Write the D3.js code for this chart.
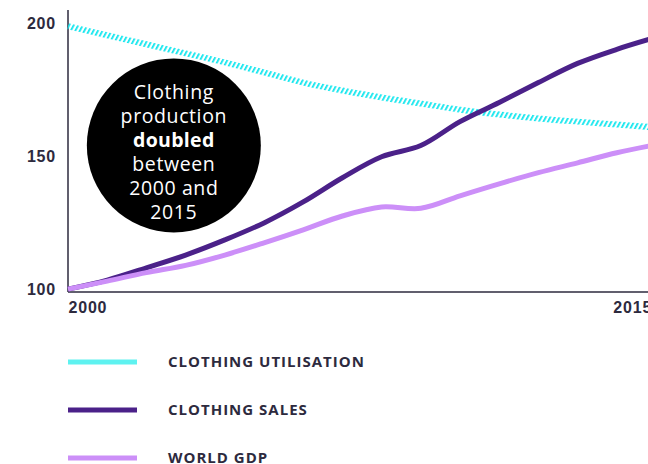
<!DOCTYPE html>
<html>
<head>
<meta charset="utf-8">
<script src="https://cdn.jsdelivr.net/npm/d3@7"></script>
<style>
  body { margin: 0; background: #fff; }
  svg { display: block; font-family: 'Open Sans', 'Lato', sans-serif; }
  .tick text { fill: #2d2a3e; font-weight: 800; }
</style>
</head>
<body>
<svg id="chart" width="648" height="464"></svg>
<script>
// data (index 2000 = 100)
const years = [2000, 2001, 2002, 2003, 2004, 2005, 2006, 2007, 2008, 2009, 2010, 2011, 2012, 2013, 2014, 2015];
const utilisation = [198.9, 195.5, 192.1, 188.7, 185.3, 181.5, 177.7, 174.7, 172.1, 169.8, 167.5, 165.7, 164.2, 163.0, 161.9, 160.8];
const sales = [100, 103.4, 108.0, 112.8, 118.5, 124.9, 132.8, 141.9, 149.8, 154.0, 163.0, 170.2, 177.7, 184.9, 190.2, 194.7];
const gdp = [100, 103.0, 106.2, 108.9, 112.8, 117.4, 122.3, 127.5, 130.9, 130.4, 135.1, 139.6, 143.8, 147.5, 151.3, 154.3];
const yTicks = [100, 150, 200];
const xTicks = [2000, 2015];
const seriesNames = ['CLOTHING UTILISATION', 'CLOTHING SALES', 'WORLD GDP'];
const calloutLines = ['Clothing', 'production', 'doubled', 'between', '2000 and', '2015'];

const svg = d3.select('#chart');

const x = d3.scaleLinear().domain([2000, 2015]).range([68, 656]);
const y = d3.scaleLinear().domain([98.9, 205]).range([292, 10]);

// hatch pattern for utilisation line
const defs = svg.append('defs');
defs.append('pattern')
  .attr('id', 'hatch')
  .attr('patternUnits', 'userSpaceOnUse')
  .attr('width', 4)
  .attr('height', 4)
  .attr('patternTransform', 'rotate(28)')
  .append('rect')
  .attr('width', 1.8)
  .attr('height', 4)
  .attr('fill', '#14e6ee');

const series = [
  {name: seriesNames[0], values: utilisation, stroke: 'url(#hatch)', legend: '#5ef2f0', width: 6},
  {name: seriesNames[1], values: sales, stroke: '#4b2189', legend: '#4b2189', width: 5},
  {name: seriesNames[2], values: gdp, stroke: '#cc8ff8', legend: '#cc8ff8', width: 5}
];

// axes
const yAxis = svg.append('g')
  .attr('transform', 'translate(' + x(2000) + ',0)')
  .call(d3.axisLeft(y).tickValues(yTicks).tickSize(0).tickPadding(12));
yAxis.select('.domain').remove();
yAxis.selectAll('text')
  .style('font-size', '16px')
  .style('letter-spacing', '0.8px');

const xAxis = svg.append('g')
  .attr('transform', 'translate(0,' + y(98.9) + ')')
  .call(d3.axisBottom(x).tickValues(xTicks).tickFormat(d3.format('d')).tickSize(0).tickPadding(10));
xAxis.select('.domain').remove();
xAxis.selectAll('text')
  .style('font-size', '16px')
  .style('letter-spacing', '0.8px')
  .attr('text-anchor', 'start')
  .attr('dx', (d, i) => i === 0 ? 0 : '-2.7em');

svg.append('line')
  .attr('x1', x(2000)).attr('x2', x(2000))
  .attr('y1', y(205)).attr('y2', y(98.9))
  .attr('stroke', '#2d2a3e').attr('stroke-width', 1.5);
svg.append('line')
  .attr('x1', x(2000)).attr('x2', x(2015))
  .attr('y1', y(98.9)).attr('y2', y(98.9))
  .attr('stroke', '#2d2a3e').attr('stroke-width', 1.5);

// lines
const line = d3.line()
  .x((d, i) => x(years[i]))
  .y(d => y(d))
  .curve(d3.curveCatmullRom.alpha(0.5));

svg.selectAll('.series')
  .data(series)
  .enter()
  .append('path')
  .attr('class', 'series')
  .attr('fill', 'none')
  .attr('stroke', d => d.stroke)
  .attr('stroke-width', d => d.width)
  .attr('d', d => line(d.values));

// callout bubble
const cx = x(2002.7), cy = y(154.8);
svg.append('circle')
  .attr('cx', cx).attr('cy', cy + 2).attr('r', 87)
  .attr('fill', '#000');

svg.append('text')
  .attr('text-anchor', 'middle')
  .attr('fill', '#fff')
  .style('font-size', '19.5px')
  .selectAll('tspan')
  .data(calloutLines)
  .enter()
  .append('tspan')
  .attr('x', cx)
  .attr('y', (d, i) => cy - 44 + i * 24)
  .style('font-weight', d => d === 'doubled' ? 700 : 400)
  .style('letter-spacing', d => d === 'doubled' ? '0.3px' : '0.6px')
  .text(d => d);

// legend
const legend = svg.selectAll('.legend')
  .data(series)
  .enter()
  .append('g')
  .attr('class', 'legend')
  .attr('transform', (d, i) => 'translate(68,' + (362 + i * 48) + ')');

legend.append('line')
  .attr('x1', 0).attr('x2', 69)
  .attr('stroke', d => d.legend)
  .attr('stroke-width', 5);

legend.append('text')
  .attr('x', 100)
  .attr('dy', '0.36em')
  .attr('fill', '#2d2a3e')
  .style('font-size', '15px')
  .style('font-weight', 700)
  .style('letter-spacing', '1px')
  .text(d => d.name);
</script>
</body>
</html>
